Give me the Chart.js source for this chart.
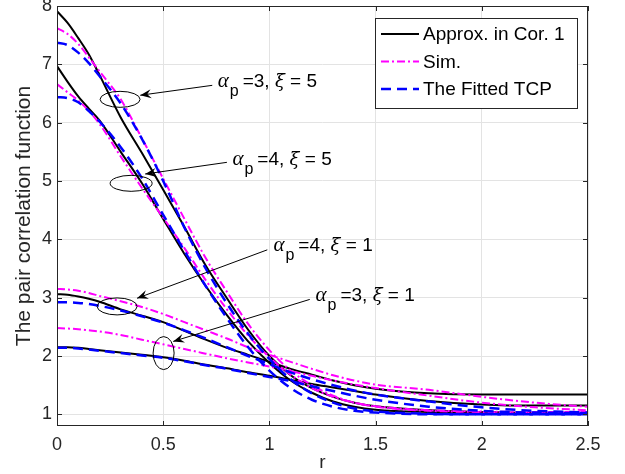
<!DOCTYPE html>
<html>
<head>
<meta charset="utf-8">
<script src="https://cdn.jsdelivr.net/npm/chart.js@4.4.0/dist/chart.umd.min.js"></script>
<style>
  html, body { margin: 0; padding: 0; background: #fff; }
</style>
</head>
<body>
<canvas id="pcf" width="625" height="474"></canvas>
<script>
// sample points along r
const r = [0, 0.05, 0.1, 0.15, 0.2, 0.3, 0.4, 0.5, 0.6, 0.7, 0.8, 0.9, 1.0, 1.1, 1.2, 1.3, 1.4, 1.5, 1.75, 2.0, 2.25, 2.5];

// alpha_p = 3, xi = 5
const approx35 = [7.91, 7.71, 7.45, 7.17, 6.82, 6.09, 5.48, 4.85, 4.21, 3.55, 2.99, 2.45, 2.0, 1.67, 1.45, 1.3, 1.2, 1.14, 1.07, 1.04, 1.02, 1.02];
const sim35    = [7.62, 7.52, 7.35, 7.12, 6.88, 6.4, 5.73, 5.04, 4.35, 3.68, 3.1, 2.55, 2.1, 1.75, 1.5, 1.32, 1.2, 1.13, 1.06, 1.04, 1.03, 1.03];
const fit35    = [7.37, 7.33, 7.2, 7.02, 6.8, 6.33, 5.72, 5.0, 4.2, 3.5, 2.9, 2.38, 1.95, 1.6, 1.36, 1.2, 1.1, 1.05, 1.01, 1.0, 1.0, 1.0];

// alpha_p = 4, xi = 5
const approx45 = [6.97, 6.7, 6.45, 6.24, 6.04, 5.5, 4.96, 4.35, 3.75, 3.2, 2.7, 2.25, 1.88, 1.58, 1.37, 1.22, 1.13, 1.08, 1.04, 1.03, 1.02, 1.02];
const sim45    = [6.66, 6.52, 6.38, 6.2, 5.98, 5.42, 4.88, 4.37, 3.85, 3.3, 2.8, 2.35, 1.98, 1.68, 1.45, 1.3, 1.2, 1.14, 1.07, 1.05, 1.04, 1.04];
const fit45    = [6.44, 6.42, 6.35, 6.2, 6.02, 5.58, 5.05, 4.42, 3.8, 3.2, 2.65, 2.15, 1.75, 1.45, 1.25, 1.13, 1.06, 1.03, 1.0, 1.0, 1.0, 1.0];

// alpha_p = 4, xi = 1
const approx41 = [3.06, 3.05, 3.02, 2.98, 2.93, 2.8, 2.69, 2.58, 2.43, 2.28, 2.14, 2.02, 1.9, 1.78, 1.68, 1.58, 1.5, 1.44, 1.36, 1.34, 1.34, 1.34];
const sim41    = [3.15, 3.14, 3.12, 3.08, 3.03, 2.94, 2.84, 2.72, 2.58, 2.44, 2.3, 2.15, 2.02, 1.9, 1.78, 1.67, 1.58, 1.51, 1.42, 1.3, 1.2, 1.13];
const fit41    = [2.92, 2.92, 2.91, 2.89, 2.86, 2.78, 2.68, 2.57, 2.44, 2.3, 2.15, 2.0, 1.86, 1.72, 1.6, 1.5, 1.41, 1.34, 1.22, 1.12, 1.06, 1.03];

// alpha_p = 3, xi = 1
const approx31 = [2.15, 2.15, 2.14, 2.12, 2.1, 2.06, 2.02, 1.98, 1.92, 1.85, 1.79, 1.72, 1.66, 1.59, 1.52, 1.46, 1.4, 1.34, 1.23, 1.17, 1.15, 1.15];
const sim31    = [2.48, 2.47, 2.46, 2.44, 2.42, 2.36, 2.28, 2.2, 2.12, 2.04, 1.96, 1.89, 1.82, 1.74, 1.66, 1.58, 1.51, 1.45, 1.32, 1.2, 1.12, 1.07];
const fit31    = [2.14, 2.14, 2.13, 2.11, 2.09, 2.05, 2.01, 1.97, 1.91, 1.84, 1.78, 1.71, 1.64, 1.57, 1.48, 1.4, 1.32, 1.25, 1.13, 1.06, 1.03, 1.02];

const xTicks = [0, 0.5, 1, 1.5, 2, 2.5];
const yTicks = [1, 2, 3, 4, 5, 6, 7, 8];

const seriesNames = ["Approx. in Cor. 1", "Sim.", "The Fitted TCP"];
const labelText = ["=3, ", "=4, ", "=4, ", "=3, "];
const labelXi = [" = 5", " = 5", " = 1", " = 1"];

const styles = [
  { color: "#000000", width: 2, dash: [] },
  { color: "#ff00ff", width: 2, dash: [8, 3, 2, 3] },
  { color: "#0000ff", width: 2.5, dash: [10, 6] }
];

const groups = [
  [approx35, sim35, fit35],
  [approx45, sim45, fit45],
  [approx41, sim41, fit41],
  [approx31, sim31, fit31]
];

const datasets = [];
groups.forEach(g => {
  g.forEach((vals, k) => {
    datasets.push({
      label: seriesNames[k],
      data: r.map((x, i) => ({ x: x, y: vals[i] })),
      borderColor: styles[k].color,
      borderWidth: styles[k].width,
      borderDash: styles[k].dash,
      pointRadius: 0,
      fill: false,
      cubicInterpolationMode: "monotone",
      order: 3 - k
    });
  });
});

// annotation spots (data coords): ellipse center, arrow tip, arrow tail, text anchor
const notes = [
  { ex: 0.297, ey: 6.40, rx: 20, ry: 8, tip: [0.392, 6.47], tail: [0.731, 6.64], text: [0.757, 6.61] },
  { ex: 0.349, ey: 4.96, rx: 21, ry: 8, tip: [0.415, 5.12], tail: [0.80, 5.32], text: [0.826, 5.28] },
  { ex: 0.283, ey: 2.85, rx: 20, ry: 8.5, tip: [0.377, 2.99], tail: [0.99, 3.82], text: [1.019, 3.80] },
  { ex: 0.502, ey: 2.05, rx: 10.5, ry: 16.5, tip: [0.547, 2.25], tail: [1.19, 2.97], text: [1.217, 2.95] }
];

const SANS = "'Liberation Sans', Arial, sans-serif";
const SERIF = "'Liberation Serif', 'DejaVu Serif', serif";

function arrowHead(ctx, x1, y1, x2, y2) {
  const a = Math.atan2(y2 - y1, x2 - x1);
  const L = 11, W = 4.5, B = 7;
  ctx.save();
  ctx.translate(x2, y2);
  ctx.rotate(a);
  ctx.beginPath();
  ctx.moveTo(0, 0);
  ctx.lineTo(-L, -W);
  ctx.lineTo(-B, 0);
  ctx.lineTo(-L, W);
  ctx.closePath();
  ctx.fill();
  ctx.restore();
}

const decor = {
  id: "decor",
  afterDraw(chart) {
    const { ctx, chartArea: a, scales: { x, y } } = chart;
    ctx.save();

    // frame and inward ticks
    ctx.strokeStyle = "#262626";
    ctx.lineWidth = 1;
    ctx.strokeRect(a.left + 0.5, a.top + 0.5, a.width - 1, a.height - 1);
    ctx.beginPath();
    xTicks.forEach(v => {
      const px = Math.round(x.getPixelForValue(v)) + 0.5;
      ctx.moveTo(px, a.bottom); ctx.lineTo(px, a.bottom - 5);
      ctx.moveTo(px, a.top); ctx.lineTo(px, a.top + 5);
    });
    yTicks.forEach(v => {
      const py = Math.round(y.getPixelForValue(v)) + 0.5;
      ctx.moveTo(a.left, py); ctx.lineTo(a.left + 5, py);
      ctx.moveTo(a.right, py); ctx.lineTo(a.right - 5, py);
    });
    ctx.stroke();

    // ellipses, arrows, labels
    ctx.strokeStyle = "#000";
    ctx.fillStyle = "#000";
    ctx.lineWidth = 1;
    notes.forEach((n, i) => {
      const cx = x.getPixelForValue(n.ex), cy = y.getPixelForValue(n.ey);
      ctx.beginPath();
      ctx.ellipse(cx, cy, n.rx, n.ry, 0, 0, Math.PI * 2);
      ctx.stroke();

      const tx = x.getPixelForValue(n.tip[0]), ty = y.getPixelForValue(n.tip[1]);
      const sx = x.getPixelForValue(n.tail[0]), sy = y.getPixelForValue(n.tail[1]);
      ctx.beginPath();
      ctx.moveTo(sx, sy);
      ctx.lineTo(tx, ty);
      ctx.stroke();
      arrowHead(ctx, sx, sy, tx, ty);

      let px = x.getPixelForValue(n.text[0]);
      const by = y.getPixelForValue(n.text[1]);
      ctx.textBaseline = "alphabetic";
      ctx.textAlign = "left";
      ctx.font = "italic 21px " + SERIF;
      ctx.fillText("\u03b1", px, by);
      px += ctx.measureText("\u03b1").width + 1;
      ctx.font = "16px " + SANS;
      ctx.fillText("p", px, by + 9);
      px += ctx.measureText("p").width + 4;
      ctx.font = "19px " + SANS;
      ctx.fillText(labelText[i], px, by);
      px += ctx.measureText(labelText[i]).width;
      ctx.font = "italic 18px 'DejaVu Serif', serif";
      ctx.fillText("\u03be", px, by);
      px += ctx.measureText("\u03be").width;
      ctx.font = "19px " + SANS;
      ctx.fillText(labelXi[i], px, by);
    });

    // legend box
    const lw = 202, lh = 90;
    const lx = a.right - 11 - lw, ly = a.top + 12;
    ctx.fillStyle = "#fff";
    ctx.fillRect(lx, ly, lw, lh);
    ctx.strokeStyle = "#262626";
    ctx.lineWidth = 1;
    ctx.strokeRect(lx + 0.5, ly + 0.5, lw, lh);
    seriesNames.forEach((name, k) => {
      const rowY = ly + 16 + k * 27.5;
      ctx.strokeStyle = styles[k].color;
      ctx.lineWidth = styles[k].width;
      ctx.setLineDash(styles[k].dash);
      ctx.beginPath();
      ctx.moveTo(lx + 6, rowY);
      ctx.lineTo(lx + 44, rowY);
      ctx.stroke();
      ctx.setLineDash([]);
      ctx.fillStyle = "#000";
      ctx.font = "19px " + SANS;
      ctx.textBaseline = "middle";
      ctx.fillText(name, lx + 48, rowY + 1);
    });
    ctx.restore();
  }
};

new Chart(document.getElementById("pcf"), {
  type: "line",
  data: { datasets },
  options: {
    responsive: false,
    animation: false,
    devicePixelRatio: 1,
    layout: { padding: { top: 6, right: 37, left: 0, bottom: 0 } },
    plugins: {
      legend: { display: false },
      tooltip: { enabled: false }
    },
    scales: {
      x: {
        type: "linear",
        min: 0,
        max: 2.5,
        afterBuildTicks: s => { s.ticks = xTicks.map(v => ({ value: v })); },
        afterFit: s => { s.height = 48; s.paddingLeft = 0; s.paddingRight = 0; },
        grid: { color: "#e3e3e3", drawTicks: false },
        border: { display: false },
        ticks: {
          color: "#262626",
          padding: 8,
          maxRotation: 0,
          font: { family: SANS, size: 18 },
          callback: v => String(v)
        },
        title: {
          display: true,
          text: "r",
          color: "#262626",
          font: { family: SANS, size: 19 },
          padding: { top: 0, bottom: 0 }
        }
      },
      y: {
        type: "linear",
        min: 0.8,
        max: 8,
        afterBuildTicks: s => { s.ticks = yTicks.map(v => ({ value: v })); },
        afterFit: s => { s.width = 57; s.paddingTop = 0; s.paddingBottom = 0; },
        grid: { color: "#e3e3e3", drawTicks: false },
        border: { display: false },
        ticks: {
          color: "#262626",
          padding: 5,
          font: { family: SANS, size: 18 },
          callback: v => String(v)
        },
        title: {
          display: true,
          text: "The pair correlation function",
          color: "#262626",
          font: { family: SANS, size: 21 },
          padding: { top: 12, bottom: 0 }
        }
      }
    }
  },
  plugins: [decor]
});
</script>
</body>
</html>
